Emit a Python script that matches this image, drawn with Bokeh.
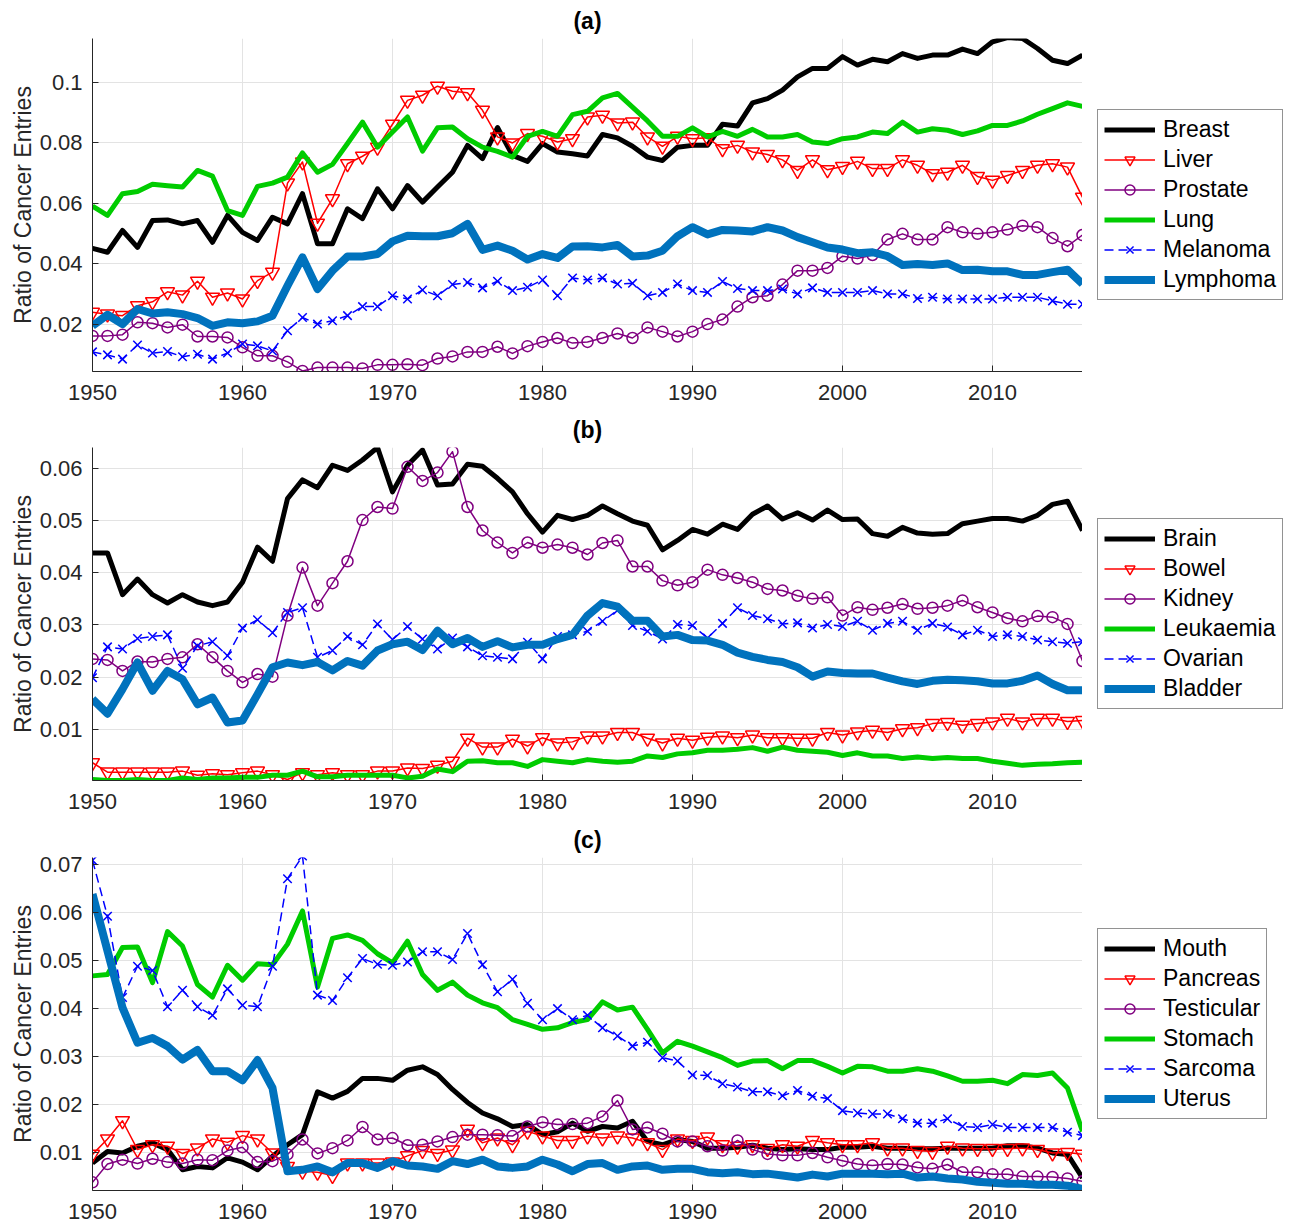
from bokeh.plotting import figure
from bokeh.models import Legend, LegendItem, FixedTicker, Range1d
from bokeh.layouts import column, row
from bokeh.embed import file_html
from bokeh.resources import INLINE

years = list(range(1950, 2017))
x_ticks = [1950, 1960, 1970, 1980, 1990, 2000, 2010]

# ---------------- Panel (a) ----------------
names_a = ["Breast", "Liver", "Prostate", "Lung", "Melanoma", "Lymphoma"]
breast = [0.0451, 0.0438, 0.0510, 0.0454, 0.0543, 0.0545, 0.0532, 0.0543, 0.0471, 0.0560,
          0.0504, 0.0477, 0.0554, 0.0532, 0.0632, 0.0466, 0.0466, 0.0582, 0.0549, 0.0648,
          0.0582, 0.0659, 0.0604, 0.0654, 0.0703, 0.0792, 0.0748, 0.0851, 0.0759, 0.0739,
          0.0798, 0.0770, 0.0764, 0.0757, 0.0828, 0.0817, 0.0789, 0.0753, 0.0742, 0.0786,
          0.0792, 0.0792, 0.0862, 0.0856, 0.0933, 0.0947, 0.0975, 0.1019, 0.1047, 0.1047,
          0.1086, 0.1058, 0.1077, 0.1069, 0.1096, 0.1080, 0.1091, 0.1091, 0.1111, 0.1096,
          0.1135, 0.1149, 0.1146, 0.1113, 0.1074, 0.1063, 0.1091]
liver = [0.0239, 0.0233, 0.0228, 0.0261, 0.0274, 0.0307, 0.0296, 0.0342, 0.0289, 0.0303,
         0.0283, 0.0344, 0.0372, 0.0667, 0.0737, 0.0534, 0.0615, 0.0731, 0.0756, 0.0786,
         0.0862, 0.0941, 0.0958, 0.0988, 0.0971, 0.0966, 0.0908, 0.0820, 0.0800, 0.0831,
         0.0822, 0.0803, 0.0814, 0.0886, 0.0892, 0.0866, 0.0869, 0.0820, 0.0789, 0.0822,
         0.0814, 0.0817, 0.0781, 0.0792, 0.0770, 0.0762, 0.0744, 0.0709, 0.0744, 0.0711,
         0.0722, 0.0739, 0.0715, 0.0715, 0.0744, 0.0726, 0.0698, 0.0703, 0.0726, 0.0689,
         0.0676, 0.0692, 0.0709, 0.0726, 0.0731, 0.0720, 0.0620]
prostate = [0.0161, 0.0161, 0.0165, 0.0206, 0.0203, 0.0189, 0.0198, 0.0159, 0.0159, 0.0156,
            0.0123, 0.0095, 0.0095, 0.0075, 0.0045, 0.0056, 0.0056, 0.0056, 0.0053, 0.0065,
            0.0065, 0.0067, 0.0064, 0.0086, 0.0093, 0.0108, 0.0108, 0.0125, 0.0103, 0.0127,
            0.0141, 0.0154, 0.0137, 0.0141, 0.0154, 0.0169, 0.0154, 0.0189, 0.0175, 0.0159,
            0.0175, 0.0200, 0.0215, 0.0258, 0.0289, 0.0294, 0.0331, 0.0377, 0.0377, 0.0386,
            0.0425, 0.0417, 0.0429, 0.0480, 0.0499, 0.0480, 0.0480, 0.0521, 0.0504, 0.0499,
            0.0504, 0.0513, 0.0526, 0.0521, 0.0485, 0.0458, 0.0495]
lung = [0.0591, 0.0560, 0.0632, 0.0639, 0.0663, 0.0658, 0.0654, 0.0709, 0.0690, 0.0576,
        0.0560, 0.0656, 0.0667, 0.0687, 0.0767, 0.0703, 0.0729, 0.0798, 0.0869, 0.0786,
        0.0836, 0.0886, 0.0773, 0.0850, 0.0853, 0.0814, 0.0786, 0.0772, 0.0753, 0.0822,
        0.0838, 0.0822, 0.0894, 0.0905, 0.0949, 0.0964, 0.0919, 0.0873, 0.0822, 0.0822,
        0.0850, 0.0820, 0.0838, 0.0822, 0.0845, 0.0820, 0.0820, 0.0828, 0.0803, 0.0798,
        0.0814, 0.0820, 0.0836, 0.0831, 0.0869, 0.0836, 0.0847, 0.0842, 0.0828, 0.0840,
        0.0858, 0.0858, 0.0873, 0.0895, 0.0914, 0.0933, 0.0921]
melanoma = [0.0108, 0.0098, 0.0084, 0.0131, 0.0104, 0.0109, 0.0092, 0.0100, 0.0084, 0.0104,
            0.0134, 0.0128, 0.0111, 0.0178, 0.0222, 0.0200, 0.0211, 0.0228, 0.0258, 0.0258,
            0.0294, 0.0283, 0.0313, 0.0294, 0.0331, 0.0338, 0.0320, 0.0342, 0.0311, 0.0322,
            0.0346, 0.0294, 0.0353, 0.0346, 0.0353, 0.0333, 0.0335, 0.0294, 0.0305, 0.0333,
            0.0311, 0.0305, 0.0341, 0.0318, 0.0311, 0.0311, 0.0316, 0.0300, 0.0320, 0.0305,
            0.0305, 0.0305, 0.0311, 0.0300, 0.0300, 0.0285, 0.0289, 0.0283, 0.0283, 0.0283,
            0.0283, 0.0289, 0.0289, 0.0289, 0.0277, 0.0266, 0.0266]
lymphoma = [0.0194, 0.0231, 0.0200, 0.0250, 0.0235, 0.0239, 0.0233, 0.0220, 0.0194, 0.0206,
            0.0203, 0.0209, 0.0228, 0.0327, 0.0421, 0.0316, 0.0377, 0.0424, 0.0424, 0.0432,
            0.0474, 0.0493, 0.0491, 0.0491, 0.0501, 0.0532, 0.0446, 0.0460, 0.0443, 0.0414,
            0.0432, 0.0419, 0.0457, 0.0458, 0.0454, 0.0462, 0.0424, 0.0427, 0.0443, 0.0491,
            0.0521, 0.0497, 0.0512, 0.0510, 0.0507, 0.0521, 0.0510, 0.0488, 0.0471, 0.0454,
            0.0447, 0.0435, 0.0438, 0.0425, 0.0396, 0.0399, 0.0396, 0.0401, 0.0379, 0.0380,
            0.0375, 0.0375, 0.0363, 0.0363, 0.0372, 0.0380, 0.0333]
y_ticks_a = [0.02, 0.04, 0.06, 0.08, 0.1]
y_labels_a = ["0.02", "0.04", "0.06", "0.08", "0.1"]

# ---------------- Panel (b) ----------------
names_b = ["Brain", "Bowel", "Kidney", "Leukaemia", "Ovarian", "Bladder"]
brain = [0.0438, 0.0438, 0.0358, 0.0388, 0.0358, 0.0342, 0.0358, 0.0344, 0.0337, 0.0344,
         0.0382, 0.0449, 0.0422, 0.0542, 0.0578, 0.0563, 0.0606, 0.0596, 0.0616, 0.0640,
         0.0555, 0.0606, 0.0635, 0.0568, 0.0570, 0.0608, 0.0604, 0.0581, 0.0555, 0.0513,
         0.0478, 0.0510, 0.0502, 0.0510, 0.0528, 0.0513, 0.0499, 0.0491, 0.0444, 0.0462,
         0.0483, 0.0474, 0.0493, 0.0483, 0.0512, 0.0528, 0.0503, 0.0515, 0.0501, 0.0520,
         0.0502, 0.0503, 0.0475, 0.0470, 0.0487, 0.0476, 0.0474, 0.0475, 0.0494, 0.0499,
         0.0504, 0.0504, 0.0499, 0.0510, 0.0531, 0.0537, 0.0481]
bowel = [0.0036, 0.0018, 0.0018, 0.0018, 0.0018, 0.0018, 0.0020, 0.0012, 0.0015, 0.0013,
         0.0017, 0.0020, 0.0013, 0.0004, 0.0017, 0.0013, 0.0017, 0.0013, 0.0013, 0.0020,
         0.0020, 0.0026, 0.0025, 0.0031, 0.0039, 0.0083, 0.0066, 0.0066, 0.0081, 0.0068,
         0.0084, 0.0074, 0.0076, 0.0087, 0.0087, 0.0094, 0.0094, 0.0083, 0.0074, 0.0083,
         0.0079, 0.0085, 0.0087, 0.0084, 0.0089, 0.0084, 0.0084, 0.0083, 0.0083, 0.0094,
         0.0089, 0.0095, 0.0098, 0.0094, 0.0101, 0.0103, 0.0111, 0.0113, 0.0108, 0.0111,
         0.0114, 0.0121, 0.0114, 0.0121, 0.0121, 0.0115, 0.0117]
kidney = [0.0235, 0.0233, 0.0212, 0.0230, 0.0229, 0.0235, 0.0238, 0.0263, 0.0238, 0.0212,
          0.0190, 0.0206, 0.0201, 0.0318, 0.0410, 0.0337, 0.0380, 0.0422, 0.0501, 0.0526,
          0.0523, 0.0603, 0.0576, 0.0592, 0.0632, 0.0526, 0.0481, 0.0458, 0.0438, 0.0458,
          0.0448, 0.0454, 0.0448, 0.0435, 0.0457, 0.0462, 0.0412, 0.0412, 0.0385, 0.0376,
          0.0382, 0.0406, 0.0396, 0.0390, 0.0382, 0.0369, 0.0366, 0.0356, 0.0350, 0.0353,
          0.0318, 0.0334, 0.0329, 0.0333, 0.0340, 0.0331, 0.0333, 0.0337, 0.0347, 0.0334,
          0.0324, 0.0313, 0.0307, 0.0317, 0.0315, 0.0302, 0.0231]
leukaemia = [0.0004, 0.0002, 0.0002, 0.0004, 0.0002, 0.0002, 0.0007, 0.0004, 0.0007, 0.0007,
             0.0008, 0.0008, 0.0012, 0.0012, 0.0020, 0.0009, 0.0009, 0.0012, 0.0012, 0.0012,
             0.0012, 0.0007, 0.0010, 0.0024, 0.0019, 0.0039, 0.0040, 0.0036, 0.0036, 0.0029,
             0.0042, 0.0039, 0.0036, 0.0042, 0.0039, 0.0037, 0.0039, 0.0049, 0.0046, 0.0053,
             0.0055, 0.0060, 0.0060, 0.0062, 0.0065, 0.0058, 0.0066, 0.0060, 0.0058, 0.0056,
             0.0050, 0.0055, 0.0049, 0.0049, 0.0044, 0.0047, 0.0044, 0.0046, 0.0044, 0.0044,
             0.0039, 0.0035, 0.0031, 0.0033, 0.0034, 0.0036, 0.0037]
ovarian = [0.0199, 0.0258, 0.0254, 0.0274, 0.0278, 0.0281, 0.0217, 0.0260, 0.0268, 0.0241,
           0.0294, 0.0310, 0.0285, 0.0324, 0.0333, 0.0238, 0.0251, 0.0278, 0.0262, 0.0302,
           0.0272, 0.0297, 0.0273, 0.0254, 0.0275, 0.0258, 0.0241, 0.0238, 0.0235, 0.0267,
           0.0235, 0.0278, 0.0281, 0.0288, 0.0307, 0.0328, 0.0299, 0.0288, 0.0273, 0.0301,
           0.0299, 0.0275, 0.0303, 0.0333, 0.0318, 0.0312, 0.0302, 0.0304, 0.0294, 0.0301,
           0.0297, 0.0307, 0.0290, 0.0303, 0.0307, 0.0290, 0.0303, 0.0296, 0.0281, 0.0290,
           0.0278, 0.0281, 0.0278, 0.0271, 0.0268, 0.0265, 0.0268]
bladder = [0.0158, 0.0130, 0.0177, 0.0228, 0.0174, 0.0212, 0.0196, 0.0148, 0.0161, 0.0113,
           0.0117, 0.0167, 0.0219, 0.0228, 0.0223, 0.0229, 0.0213, 0.0231, 0.0222, 0.0251,
           0.0263, 0.0268, 0.0252, 0.0289, 0.0263, 0.0275, 0.0258, 0.0269, 0.0257, 0.0262,
           0.0262, 0.0273, 0.0281, 0.0318, 0.0342, 0.0335, 0.0308, 0.0308, 0.0278, 0.0281,
           0.0271, 0.0270, 0.0262, 0.0247, 0.0239, 0.0233, 0.0229, 0.0219, 0.0201, 0.0211,
           0.0208, 0.0207, 0.0207, 0.0199, 0.0192, 0.0187, 0.0193, 0.0195, 0.0194, 0.0192,
           0.0188, 0.0188, 0.0193, 0.0203, 0.0187, 0.0175, 0.0175]
y_ticks_b = [0.01, 0.02, 0.03, 0.04, 0.05, 0.06]
y_labels_b = ["0.01", "0.02", "0.03", "0.04", "0.05", "0.06"]

# ---------------- Panel (c) ----------------
names_c = ["Mouth", "Pancreas", "Testicular", "Stomach", "Sarcoma", "Uterus"]
mouth = [0.0079, 0.0103, 0.0100, 0.0114, 0.0121, 0.0107, 0.0065, 0.0072, 0.0069, 0.0090,
         0.0081, 0.0065, 0.0093, 0.0117, 0.0138, 0.0227, 0.0214, 0.0228, 0.0255, 0.0255,
         0.0251, 0.0272, 0.0279, 0.0263, 0.0232, 0.0205, 0.0183, 0.0171, 0.0155, 0.0159,
         0.0138, 0.0144, 0.0162, 0.0145, 0.0155, 0.0152, 0.0166, 0.0124, 0.0117, 0.0128,
         0.0124, 0.0110, 0.0110, 0.0112, 0.0116, 0.0110, 0.0107, 0.0109, 0.0107, 0.0107,
         0.0112, 0.0112, 0.0114, 0.0110, 0.0110, 0.0109, 0.0109, 0.0110, 0.0110, 0.0110,
         0.0110, 0.0115, 0.0115, 0.0110, 0.0100, 0.0097, 0.0048]
pancreas = [0.0097, 0.0129, 0.0167, 0.0107, 0.0117, 0.0114, 0.0099, 0.0110, 0.0129, 0.0122,
            0.0136, 0.0129, 0.0100, 0.0072, 0.0062, 0.0060, 0.0053, 0.0079, 0.0079, 0.0079,
            0.0081, 0.0094, 0.0105, 0.0099, 0.0106, 0.0149, 0.0121, 0.0131, 0.0117, 0.0145,
            0.0135, 0.0126, 0.0126, 0.0135, 0.0131, 0.0135, 0.0131, 0.0121, 0.0107, 0.0129,
            0.0126, 0.0133, 0.0117, 0.0114, 0.0117, 0.0109, 0.0117, 0.0114, 0.0126, 0.0121,
            0.0117, 0.0117, 0.0121, 0.0110, 0.0110, 0.0105, 0.0103, 0.0114, 0.0110, 0.0109,
            0.0109, 0.0109, 0.0110, 0.0107, 0.0100, 0.0101, 0.0097]
testicular = [0.0039, 0.0077, 0.0086, 0.0078, 0.0088, 0.0081, 0.0078, 0.0086, 0.0085, 0.0105,
              0.0112, 0.0081, 0.0083, 0.0097, 0.0128, 0.0099, 0.0110, 0.0126, 0.0154, 0.0128,
              0.0131, 0.0116, 0.0117, 0.0124, 0.0133, 0.0138, 0.0138, 0.0137, 0.0135, 0.0155,
              0.0164, 0.0159, 0.0160, 0.0162, 0.0176, 0.0209, 0.0149, 0.0153, 0.0140, 0.0124,
              0.0124, 0.0114, 0.0105, 0.0126, 0.0107, 0.0098, 0.0095, 0.0095, 0.0100, 0.0091,
              0.0084, 0.0077, 0.0074, 0.0077, 0.0076, 0.0070, 0.0067, 0.0076, 0.0060, 0.0060,
              0.0056, 0.0056, 0.0051, 0.0051, 0.0050, 0.0047, 0.0041]
stomach = [0.0468, 0.0471, 0.0527, 0.0528, 0.0454, 0.0560, 0.0530, 0.0450, 0.0424, 0.0490,
           0.0459, 0.0493, 0.0491, 0.0534, 0.0603, 0.0445, 0.0546, 0.0553, 0.0542, 0.0514,
           0.0495, 0.0540, 0.0471, 0.0438, 0.0455, 0.0428, 0.0412, 0.0402, 0.0377, 0.0367,
           0.0357, 0.0360, 0.0371, 0.0377, 0.0414, 0.0397, 0.0403, 0.0357, 0.0308, 0.0332,
           0.0322, 0.0310, 0.0298, 0.0282, 0.0291, 0.0292, 0.0275, 0.0292, 0.0292, 0.0280,
           0.0266, 0.0280, 0.0279, 0.0270, 0.0270, 0.0275, 0.0270, 0.0260, 0.0249, 0.0249,
           0.0251, 0.0244, 0.0263, 0.0261, 0.0266, 0.0235, 0.0145]
sarcoma = [0.0708, 0.0592, 0.0423, 0.0488, 0.0479, 0.0404, 0.0438, 0.0404, 0.0386, 0.0441,
           0.0407, 0.0404, 0.0488, 0.0670, 0.0717, 0.0428, 0.0417, 0.0464, 0.0504, 0.0492,
           0.0490, 0.0497, 0.0518, 0.0518, 0.0502, 0.0556, 0.0491, 0.0435, 0.0461, 0.0411,
           0.0377, 0.0400, 0.0377, 0.0386, 0.0360, 0.0343, 0.0322, 0.0330, 0.0298, 0.0291,
           0.0262, 0.0261, 0.0244, 0.0237, 0.0227, 0.0227, 0.0219, 0.0230, 0.0218, 0.0213,
           0.0188, 0.0183, 0.0181, 0.0181, 0.0171, 0.0162, 0.0162, 0.0171, 0.0155, 0.0153,
           0.0159, 0.0153, 0.0153, 0.0153, 0.0153, 0.0143, 0.0136]
uterus = [0.0638, 0.0520, 0.0402, 0.0329, 0.0339, 0.0322, 0.0294, 0.0314, 0.0270, 0.0270,
          0.0251, 0.0293, 0.0235, 0.0062, 0.0065, 0.0072, 0.0060, 0.0079, 0.0079, 0.0069,
          0.0083, 0.0074, 0.0072, 0.0067, 0.0083, 0.0077, 0.0086, 0.0072, 0.0069, 0.0072,
          0.0086, 0.0076, 0.0062, 0.0077, 0.0079, 0.0065, 0.0072, 0.0074, 0.0065, 0.0067,
          0.0067, 0.0060, 0.0058, 0.0060, 0.0056, 0.0057, 0.0053, 0.0049, 0.0055, 0.0051,
          0.0057, 0.0057, 0.0057, 0.0056, 0.0057, 0.0049, 0.0051, 0.0047, 0.0045, 0.0040,
          0.0038, 0.0036, 0.0036, 0.0034, 0.0034, 0.0032, 0.0025]
y_ticks_c = [0.01, 0.02, 0.03, 0.04, 0.05, 0.06, 0.07]
y_labels_c = ["0.01", "0.02", "0.03", "0.04", "0.05", "0.06", "0.07"]

FONT = "Liberation Sans"
AX = "#262626"

# style of the 1st..6th series in every panel
STYLES = [
    dict(color="#000000", width=5, dash="solid", marker=None, msize=0),
    dict(color="#ff0000", width=1.5, dash="solid", marker="inverted_triangle", msize=14),
    dict(color="#800080", width=1.5, dash="solid", marker="circle", msize=11),
    dict(color="#00cc00", width=5, dash="solid", marker=None, msize=0),
    dict(color="#0000ff", width=1.5, dash="9 5", marker="x", msize=12),
    dict(color="#0072bd", width=8, dash="solid", marker=None, msize=0),
]


def add_series(p, xs, ys, st):
    rs = [p.line(xs, ys, line_color=st["color"], line_width=st["width"],
                 line_dash=st["dash"], line_join="round")]
    if st["marker"]:
        rs.append(p.scatter(xs, ys, marker=st["marker"], size=st["msize"],
                            line_color=st["color"], fill_color=None, line_width=1.5))
    return rs


def make_panel(title, names, series, y_lo, y_hi, yticks, ylabels, top, bottom):
    p = figure(frame_width=990, frame_height=333,
               x_range=Range1d(1950, 2016), y_range=Range1d(y_lo, y_hi),
               output_backend="svg", toolbar_location=None,
               min_border_left=92, min_border_right=0,
               min_border_top=top, min_border_bottom=bottom)
    p.outline_line_color = None
    p.background_fill_color = "white"
    p.title.text = title
    p.title.align = "center"
    p.title.text_font = FONT
    p.title.text_font_size = "23px"
    p.title.text_font_style = "bold"
    p.title.text_color = "black"
    p.title.standoff = 9

    p.xaxis.ticker = FixedTicker(ticks=x_ticks)
    p.yaxis.ticker = FixedTicker(ticks=yticks)
    p.yaxis.major_label_overrides = {t: l for t, l in zip(yticks, ylabels)}
    for ax in (p.xaxis, p.yaxis):
        ax.axis_line_color = AX
        ax.axis_line_width = 1
        ax.major_tick_line_color = AX
        ax.major_tick_in = 6
        ax.major_tick_out = 0
        ax.minor_tick_line_color = None
        ax.major_label_text_font = FONT
        ax.major_label_text_font_size = "22px"
        ax.major_label_text_color = AX
    p.xaxis.major_label_standoff = 13
    p.yaxis.major_label_standoff = 10
    p.yaxis.axis_label = "Ratio of Cancer Entries"
    p.yaxis.axis_label_text_font = FONT
    p.yaxis.axis_label_text_font_size = "23px"
    p.yaxis.axis_label_text_font_style = "normal"
    p.yaxis.axis_label_text_color = AX
    p.yaxis.axis_label_standoff = 1

    p.xgrid.ticker = FixedTicker(ticks=x_ticks)
    p.ygrid.ticker = FixedTicker(ticks=yticks)
    p.grid.grid_line_color = "#e3e3e3"
    p.grid.grid_line_width = 1

    for vals, st in zip(series, STYLES):
        add_series(p, years, vals, st)

    # legend lives in its own narrow figure to the right of the axes; its
    # renderers hold the same series, but its ranges keep them out of view
    total_h = top + 333 + bottom
    lf = figure(width=206, height=total_h, x_range=Range1d(0, 1), y_range=Range1d(0, 1),
                x_axis_type=None, y_axis_type=None, output_backend="svg",
                toolbar_location=None, min_border=0)
    lf.outline_line_color = None
    lf.grid.visible = False
    items = []
    for name, vals, st in zip(names, series, STYLES):
        rs = add_series(lf, years, vals, st)
        items.append(LegendItem(label=name, renderers=rs))
    leg = Legend(items=items, location=(15, 71))
    leg.label_text_font = FONT
    leg.label_text_font_size = "23px"
    leg.label_text_color = "black"
    leg.border_line_color = AX
    leg.border_line_width = 1
    leg.background_fill_color = "white"
    leg.background_fill_alpha = 1
    leg.glyph_width = 51
    leg.glyph_height = 25
    leg.label_height = 25
    leg.spacing = 3
    leg.padding = 6
    leg.margin = 0
    leg.label_standoff = 8
    lf.add_layout(leg, "center")
    return row(p, lf)


pa = make_panel("(a)", names_a, [breast, liver, prostate, lung, melanoma, lymphoma],
                0.0043, 0.1146, y_ticks_a, y_labels_a, 38, 38)
pb = make_panel("(b)", names_b, [brain, bowel, kidney, leukaemia, ovarian, bladder],
                0.0002, 0.0640, y_ticks_b, y_labels_b, 38, 39)
pc = make_panel("(c)", names_c, [mouth, pancreas, testicular, stomach, sarcoma, uterus],
                0.0022, 0.0714, y_ticks_c, y_labels_c, 38, 34)

layout = column(pa, pb, pc)
open("out.html", "w").write(file_html(layout, INLINE, title="Cancer entries"))
